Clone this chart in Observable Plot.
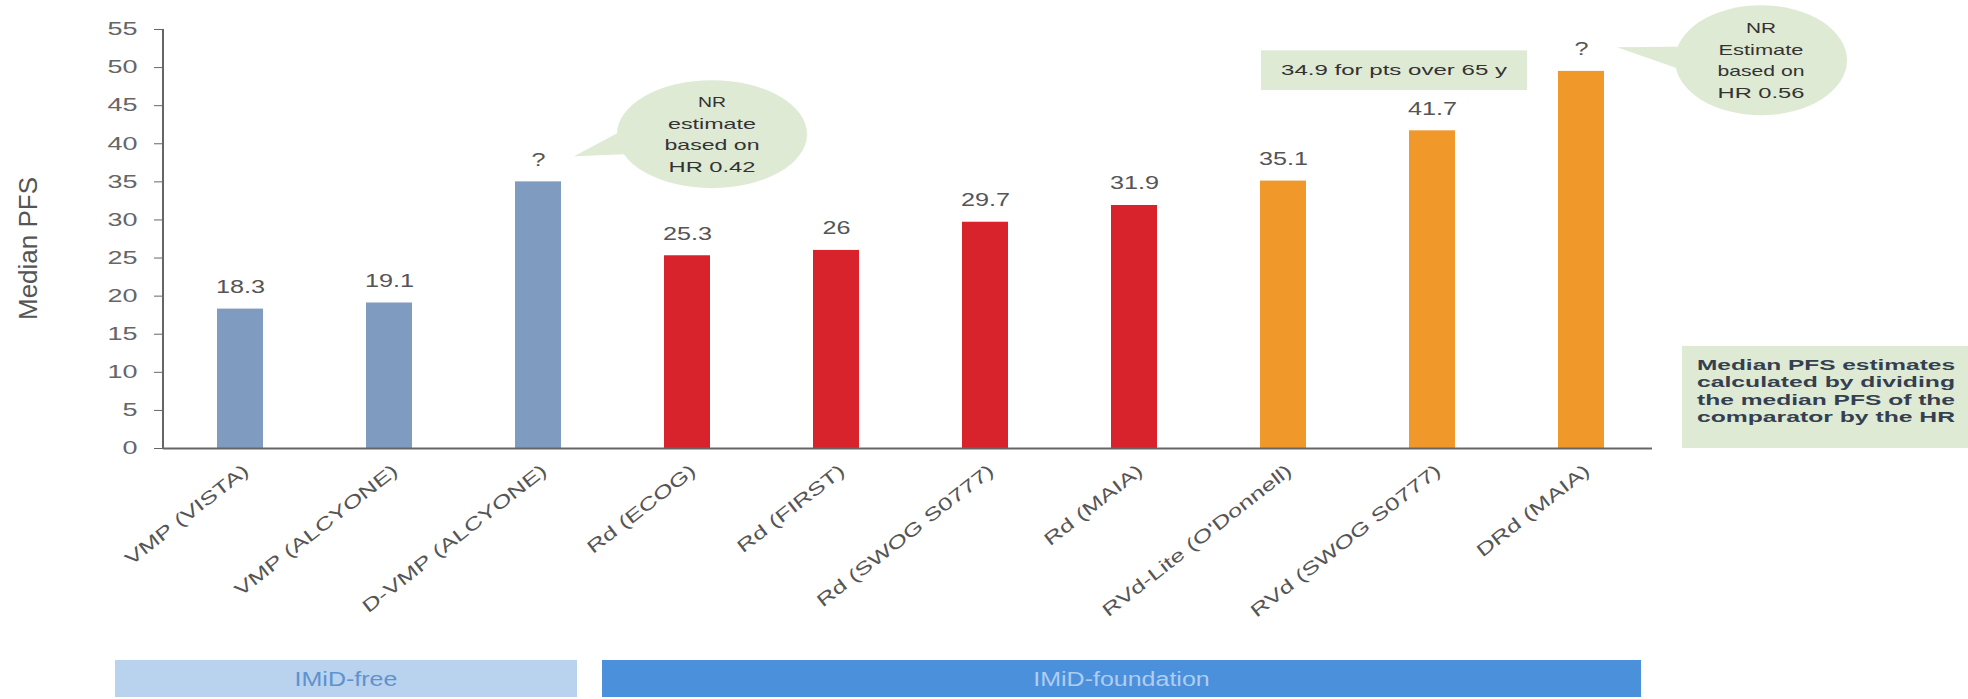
<!DOCTYPE html>
<html><head><meta charset="utf-8">
<script src="https://cdn.jsdelivr.net/npm/d3@7"></script>
<script src="https://cdn.jsdelivr.net/npm/@observablehq/plot@0.6"></script>
<style>
body{margin:0;background:#fff;font-family:"Liberation Sans",Arial,sans-serif}
#chart svg{display:block}
</style>
</head><body><div id="chart"></div>
<script>
// ---- data ----
const categories = ["VMP (VISTA)","VMP (ALCYONE)","D-VMP (ALCYONE)","Rd (ECOG)","Rd (FIRST)","Rd (SWOG S0777)","Rd (MAIA)","RVd-Lite (O'Donnell)","RVd (SWOG S0777)","DRd (MAIA)"];
const values = [18.3, 19.1, 35, 25.3, 26, 29.7, 31.9, 35.1, 41.7, 49.5];
const valueLabels = ["18.3","19.1","?","25.3","26","29.7","31.9","35.1","41.7","?"];
const colorGroups = ["VMP","VMP","VMP","Rd","Rd","Rd","Rd","RVd","RVd","RVd"];
const groupColors = ["#7f9cc0","#d8222c","#f0992a"];
const yTicks = [0,5,10,15,20,25,30,35,40,45,50,55];
const yLabel = "Median PFS";
const calloutDVMP = ["NR","estimate","based on","HR 0.42"];
const calloutDRd = ["NR","Estimate","based on","HR 0.56"];
const noteRVd = "34.9 for pts over 65 y";
const noteBox = ["Median PFS estimates","calculated by dividing","the median PFS of the","comparator by the HR"];
const bannerLabels = ["IMiD-free","IMiD-foundation"];
const bannerFirst = ["VMP (VISTA)","Rd (ECOG)"];
const bannerLast = ["D-VMP (ALCYONE)","DRd (MAIA)"];

const data = categories.map((c,i)=>({cat:c, v:values[i], label:valueLabels[i], grp:colorGroups[i]}));
const FONT = "Liberation Sans, Arial, sans-serif";

const plot = Plot.plot({
  width:1968, height:699,
  marginLeft:163, marginRight:316, marginTop:29, marginBottom:251,
  style:{fontFamily:FONT, fontSize:"18px", color:"#555", background:"white", overflow:"visible"},
  x:{domain:categories, range:[165,1657], paddingInner:0.69, paddingOuter:0.35, label:null},
  y:{domain:[0,55], label:null},
  color:{domain:["VMP","Rd","RVd"], range:groupColors},
  marks:[
    Plot.barY(data,{x:"cat",y:"v",fill:"grp"}),
    Plot.text(data,{x:"cat",y:"v",text:"label",dy:-22,fontSize:18,fill:"#555"}),
    Plot.axisY({ticks:yTicks, tickSize:9, tickPadding:17, fontSize:18, label:null, stroke:"#666", fill:"#666"}),
    Plot.axisX({tickSize:0, tickRotate:-38, tickPadding:20, dx:6, fontSize:18, label:null, fill:"#555"}),
    Plot.ruleY([0],{stroke:"#666", strokeWidth:2})
  ]
});
document.getElementById("chart").appendChild(plot);

const svg = d3.select(plot);
// horizontally widened text, as in the reference
function widen(sel, f) {
  sel.each(function(){ const L = this.getComputedTextLength(); d3.select(this).attr("textLength", L*f).attr("lengthAdjust","spacingAndGlyphs"); });
}
widen(svg.selectAll('g[aria-label="x-axis tick label"] text'), 1.42);
widen(svg.selectAll('g[aria-label="y-axis tick label"] text'), 1.5);
widen(svg.selectAll('g[aria-label="text"] text'), 1.4);

const sx = plot.scale("x"), sy = plot.scale("y");
const bw = sx.bandwidth;
const cx = c => sx.apply(c) + bw/2;
const Y = v => sy.apply(v);
const g = svg.append("g").attr("font-family", FONT);

// y axis line
g.append("line").attr("x1", 163).attr("x2", 163)
  .attr("y1", Y(55)).attr("y2", Y(0)).attr("stroke","#666").attr("stroke-width",2);
// y label
g.append("text").attr("transform",`translate(37,${(Y(0)+Y(55))/2 + 10}) rotate(-90)`)
  .attr("text-anchor","middle").attr("font-size",26).attr("fill","#555").text(yLabel);

const GREEN = "#dfead5";
function bubble(x0, y0, rx, ry, tipX, tipY, lines, lens, fs) {
  g.append("path").attr("d", `M${x0-rx*0.75},${y0-ry*0.25} L${tipX},${tipY} L${x0-rx*0.6},${y0+ry*0.35} Z`).attr("fill", GREEN);
  g.append("ellipse").attr("cx",x0).attr("cy",y0).attr("rx",rx).attr("ry",ry).attr("fill",GREEN);
  const t = g.append("text").attr("text-anchor","middle").attr("font-size",fs).attr("fill","#333");
  lines.forEach((l,i)=> t.append("tspan").attr("x",x0).attr("y", y0 + (i-(lines.length-1)/2)*21.5 + fs*0.36)
    .attr("textLength", lens[i]).attr("lengthAdjust","spacingAndGlyphs").text(l));
}
bubble(cx("D-VMP (ALCYONE)")+174, Y(41.2), 95, 54, cx("D-VMP (ALCYONE)")+36, Y(38.3), calloutDVMP, [28,88,95,87], 15);
bubble(cx("DRd (MAIA)")+180, Y(50.9), 86, 55, cx("DRd (MAIA)")+36, Y(52.6), calloutDRd, [30,85,87,87], 15);

// note box above RVd
const rx0 = cx("RVd (SWOG S0777)") - 171, rx1 = cx("RVd (SWOG S0777)") + 95;
g.append("rect").attr("x",rx0).attr("y",Y(52.2)).attr("width",rx1-rx0).attr("height",Y(47)-Y(52.2)).attr("fill",GREEN);
g.append("text").attr("x",(rx0+rx1)/2).attr("y",(Y(52.2)+Y(47))/2+5).attr("text-anchor","middle")
  .attr("font-size",15).attr("fill","#333").attr("textLength",226).attr("lengthAdjust","spacingAndGlyphs").text(noteRVd);

// right note box
const nbX = 1682;
g.append("rect").attr("x",nbX).attr("y",Y(13.4)).attr("width",1968-nbX).attr("height",Y(0)-Y(13.4)).attr("fill",GREEN);
const nt = g.append("text").attr("text-anchor","start").attr("font-size",14).attr("font-weight","bold").attr("fill","#34404f");
noteBox.forEach((l,i)=> nt.append("tspan").attr("x", nbX+15).attr("y", Y(13.4)+24+i*17.5)
  .attr("textLength",258).attr("lengthAdjust","spacingAndGlyphs").text(l));

// bottom banners
const bannerStyle = [{fill:"#b9d3ee", text:"#5e92d0", l:-125, r:39}, {fill:"#4a90da", text:"#b0cdf0", l:-85, r:60}];
bannerLabels.forEach((lab,i)=>{
  const a = cx(bannerFirst[i]) + bannerStyle[i].l, b = cx(bannerLast[i]) + bannerStyle[i].r;
  g.append("rect").attr("x",a).attr("y",660).attr("width",b-a).attr("height",37).attr("fill",bannerStyle[i].fill);
  const t = g.append("text").attr("x",(a+b)/2).attr("y",686).attr("text-anchor","middle").attr("font-size",20)
    .attr("fill",bannerStyle[i].text).text(lab);
  widen(t, 1.25);
});
</script>
</body></html>
